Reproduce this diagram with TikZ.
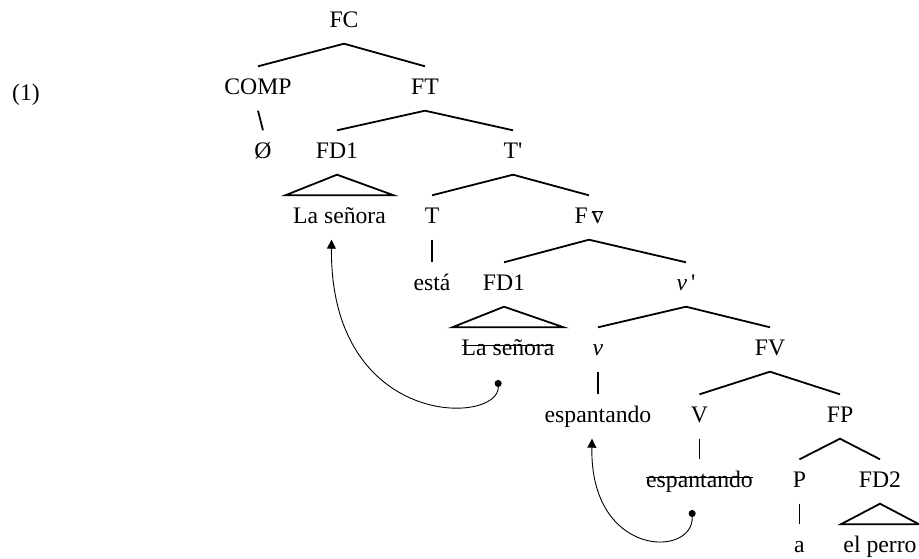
\documentclass[tikz,border=0pt]{standalone}
\usepackage{fontspec}
\setmainfont{Liberation Serif}[Ligatures=TeXOff]
\usepackage{tikz}
\usetikzlibrary{arrows.meta}
\newlength{\anchotachado}
\newcommand{\tachado}[1]{\settowidth{\anchotachado}{#1}\rlap{#1}\rule[9pt]{\anchotachado}{1pt}}
\tikzset{
  cat/.style={anchor=base, font=\fontsize{23.7pt}{28pt}\selectfont, text height=16pt, text depth=5pt, inner xsep=2pt, inner ysep=11.5pt},
  rama/.style={line width=1.8pt},
  huella/.style={line width=0.9pt, {Circle[length=7pt]}-{Triangle[length=9pt,width=9pt]}}
}
\begin{document}
\begin{tikzpicture}[x=1pt,y=-1pt]
\useasboundingbox (0,0) rectangle (919,558);

\node (ej) at (26,100) [cat] {(1)};

\node (fc) at (344,27) [cat] {FC};
\node (comp) at (258,94) [cat] {COMP};
\node (ft) at (425,94) [cat] {FT};
\node (nulo) at (263,158) [cat] {Ø};
\node (fdA) at (337,158) [cat] {FD1};
\node (tbar) at (513,158) [cat] {T'};
\node (senoraA) at (339.5,223) [cat, minimum width=108pt] {La señora};
\node (t) at (432,223) [cat] {T};
\node (fv) at (589,223) [cat] {F\,$\overline{\mbox{v}}$};
\node (esta) at (432,290) [cat] {está};
\node (fdB) at (504,290) [cat] {FD1};
\node (vbar) at (686,290) [cat] {\textit{v}\,'};
\node (senoraB) at (508,355) [cat, minimum width=111pt] {\tachado{La señora}};
\node (v) at (598,355) [cat] {\textit{v}};
\node (fvv) at (770,355) [cat] {FV};
\node (espA) at (598,422) [cat] {espantando};
\node (vv) at (699.5,422) [cat] {V};
\node (fp) at (840,422) [cat] {FP};
\node (espB) at (699.5,487) [cat] {\tachado{espantando}};
\node (p) at (799.5,487) [cat] {P};
\node (fdC) at (880,487) [cat] {FD2};
\node (a) at (799.5,552) [cat] {a};
\node (perro) at (880,552) [cat, minimum width=78pt] {el perro};

% ramas
\draw[rama] (comp.north) -- (fc.south) -- (ft.north);
\draw[rama] (comp.south) -- (nulo.north);
\draw[rama] (fdA.north) -- (ft.south) -- (tbar.north);
\draw[rama] (senoraA.north east) -- (fdA.south) -- (senoraA.north west) -- cycle;
\draw[rama] (t.north) -- (tbar.south) -- (fv.north);
\draw[rama] (t.south) -- (esta.north);
\draw[rama] (fdB.north) -- (fv.south) -- (vbar.north);
\draw[rama] (senoraB.north east) -- (fdB.south) -- (senoraB.north west) -- cycle;
\draw[rama] (v.north) -- (vbar.south) -- (fvv.north);
\draw[rama] (v.south) -- (espA.north);
\draw[rama] (vv.north) -- (fvv.south) -- (fp.north);
\draw[rama] (vv.south) -- (espB.north);
\draw[rama] (p.north) -- (fp.south) -- (fdC.north);
\draw[rama] (p.south) -- (a.north);
\draw[rama] (perro.north east) -- (fdC.south) -- (perro.north west) -- cycle;

% movimientos
\coordinate (huellaA) at (498,380);
\coordinate (huellaB) at (692,510);
\draw[huella] (huellaA) .. controls (500,425) and (330,430) .. ([xshift=-8pt]senoraA.south);
\draw[huella] (huellaB) .. controls (694,558) and (590,558) .. ([xshift=-6pt]espA.south);
\end{tikzpicture}
\end{document}
